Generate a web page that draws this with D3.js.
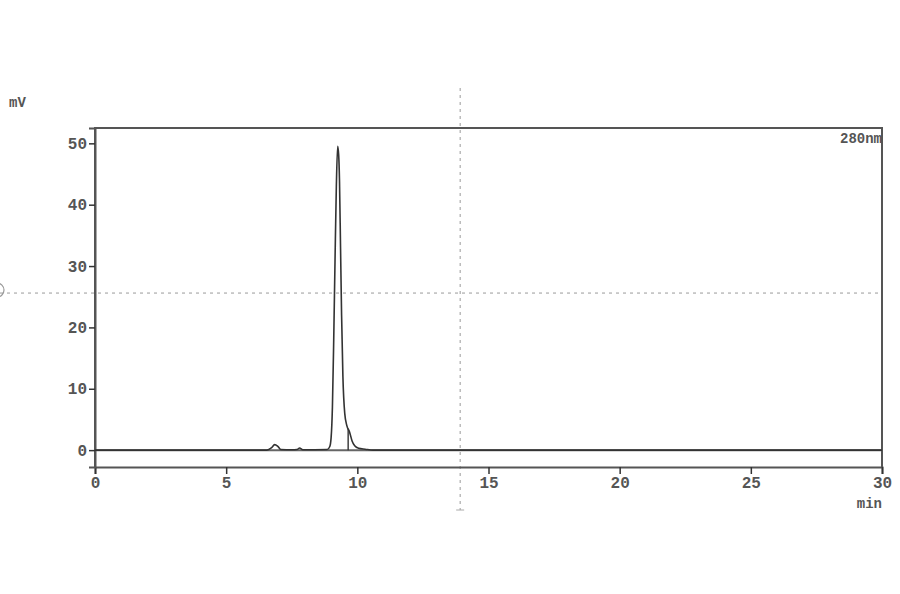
<!DOCTYPE html>
<html>
<head>
<meta charset="utf-8">
<script src="https://cdn.jsdelivr.net/npm/d3@7"></script>
<style>
  body { margin: 0; background: #fff; }
  svg { display: block; }
</style>
</head>
<body>
<div id="chart"></div>
<script>
// chromatogram trace (min, mV)
var times  = [0, 6.55, 6.72, 6.85, 6.97, 7.08, 7.5, 7.7, 7.8, 7.92, 8.85, 8.95, 9.0, 9.05, 9.1, 9.15, 9.2, 9.25, 9.29, 9.32, 9.36, 9.4, 9.45, 9.52, 9.6, 9.7, 9.8, 9.9, 10.05, 10.3, 10.6, 30];
var signal = [0, 0, 0.35, 0.9, 0.6, 0.1, 0.05, 0.1, 0.35, 0.05, 0.1, 0.6, 2, 7, 18, 31, 43, 49.5, 48, 44, 33, 22, 12, 6, 4, 3, 1.5, 0.7, 0.3, 0.15, 0, 0];
var dropTime = 9.65;
var xTicks = [0, 5, 10, 15, 20, 25, 30];
var yTicks = [0, 10, 20, 30, 40, 50];
var channel = "280nm";
var cursorT = 13.92, cursorV = 25.6;

var draw_chart = function() {

  var W = 900, H = 594;
  var pl = 95, pr = 882, pt = 128, pb = 467;
  var font = "Liberation Mono";
  var axisCol = "#555";
  var textCol = "#555";

  var svg = d3.select("#chart").append("svg")
    .attr("width", W).attr("height", H);
  svg.append("rect").attr("width", W).attr("height", H).attr("fill", "#fff");

  var x = d3.scaleLinear().domain([0, 30]).range([pl, pr]);
  var y = d3.scaleLinear().domain([-2.75, 52.5]).range([pb, pt]);

  // dotted cursor cross
  svg.append("line")
    .attr("x1", x(cursorT)).attr("x2", x(cursorT))
    .attr("y1", 88).attr("y2", 510)
    .attr("stroke", "#999").attr("stroke-width", 1)
    .attr("stroke-dasharray", "3,4");
  svg.append("line")
    .attr("x1", x(cursorT) - 4).attr("x2", x(cursorT) + 4)
    .attr("y1", 510).attr("y2", 510)
    .attr("stroke", "#aaa").attr("stroke-width", 1);
  svg.append("line")
    .attr("x1", 0).attr("x2", pr)
    .attr("y1", y(cursorV)).attr("y2", y(cursorV))
    .attr("stroke", "#999").attr("stroke-width", 1)
    .attr("stroke-dasharray", "3,4");
  svg.append("circle")
    .attr("cx", -3).attr("cy", y(cursorV) - 3).attr("r", 7)
    .attr("fill", "none").attr("stroke", "#999").attr("stroke-width", 1.2);

  // frame
  svg.append("path")
    .attr("d", "M" + pl + "," + pb + "V" + pt + "H" + pr + "V" + pb)
    .attr("fill", "none").attr("stroke", axisCol).attr("stroke-width", 2);

  // baseline at 0 mV
  svg.append("line")
    .attr("x1", pl).attr("x2", pr)
    .attr("y1", y(0)).attr("y2", y(0))
    .attr("stroke", "#666").attr("stroke-width", 2);

  // x axis (major + minor ticks)
  var gx = svg.append("g").attr("transform", "translate(0," + pb + ")");
  gx.call(d3.axisBottom(x).tickValues(d3.range(0, 31, 1)).tickSize(3).tickFormat(""));
  gx.call(d3.axisBottom(x).tickValues(xTicks).tickSize(7).tickPadding(3).tickFormat(d3.format("d")));
  gx.selectAll(".domain").attr("stroke", axisCol).attr("stroke-width", 2);
  gx.selectAll(".tick line").attr("stroke", "#333").attr("stroke-width", 1.5);
  gx.selectAll("text")
    .attr("font-family", font).attr("font-size", 16).attr("font-weight", "bold")
    .attr("fill", textCol);

  svg.append("text")
    .attr("x", pr).attr("y", 508)
    .attr("text-anchor", "end")
    .attr("font-family", font).attr("font-size", 14).attr("font-weight", "bold")
    .attr("fill", textCol)
    .text("min");

  // y axis (major + minor ticks)
  var gy = svg.append("g").attr("transform", "translate(" + pl + ",0)");
  gy.call(d3.axisLeft(y).tickValues(d3.range(-2, 53, 2)).tickSize(3).tickFormat(""));
  gy.call(d3.axisLeft(y).tickValues(yTicks).tickSize(6).tickPadding(2).tickFormat(d3.format("d")));
  gy.selectAll(".domain").attr("stroke", axisCol).attr("stroke-width", 2);
  gy.selectAll(".tick line").attr("stroke", "#333").attr("stroke-width", 1.5);
  gy.selectAll("text")
    .attr("font-family", font).attr("font-size", 16).attr("font-weight", "bold")
    .attr("fill", textCol);

  svg.append("text")
    .attr("x", 9).attr("y", 107)
    .attr("font-family", font).attr("font-size", 14).attr("font-weight", "bold")
    .attr("fill", textCol)
    .text("mV");

  svg.append("text")
    .attr("x", pr).attr("y", 143)
    .attr("text-anchor", "end")
    .attr("font-family", font).attr("font-size", 14).attr("font-weight", "bold")
    .attr("fill", textCol)
    .text(channel);

  // trace
  var line = d3.line()
    .x(function(d, i) { return x(times[i]); })
    .y(function(d) { return y(d); })
    .curve(d3.curveMonotoneX);

  svg.append("path")
    .datum(signal)
    .attr("d", line)
    .attr("fill", "none")
    .attr("stroke", "#333")
    .attr("stroke-width", 1.6);

  // drop line between main peak and shoulder
  var dropV = d3.interpolateNumber(4, 3)((dropTime - 9.6) / 0.1);
  svg.append("line")
    .attr("x1", x(dropTime)).attr("x2", x(dropTime))
    .attr("y1", y(dropV)).attr("y2", y(0))
    .attr("stroke", "#333").attr("stroke-width", 1.4);
}

draw_chart();
</script>
</body>
</html>
